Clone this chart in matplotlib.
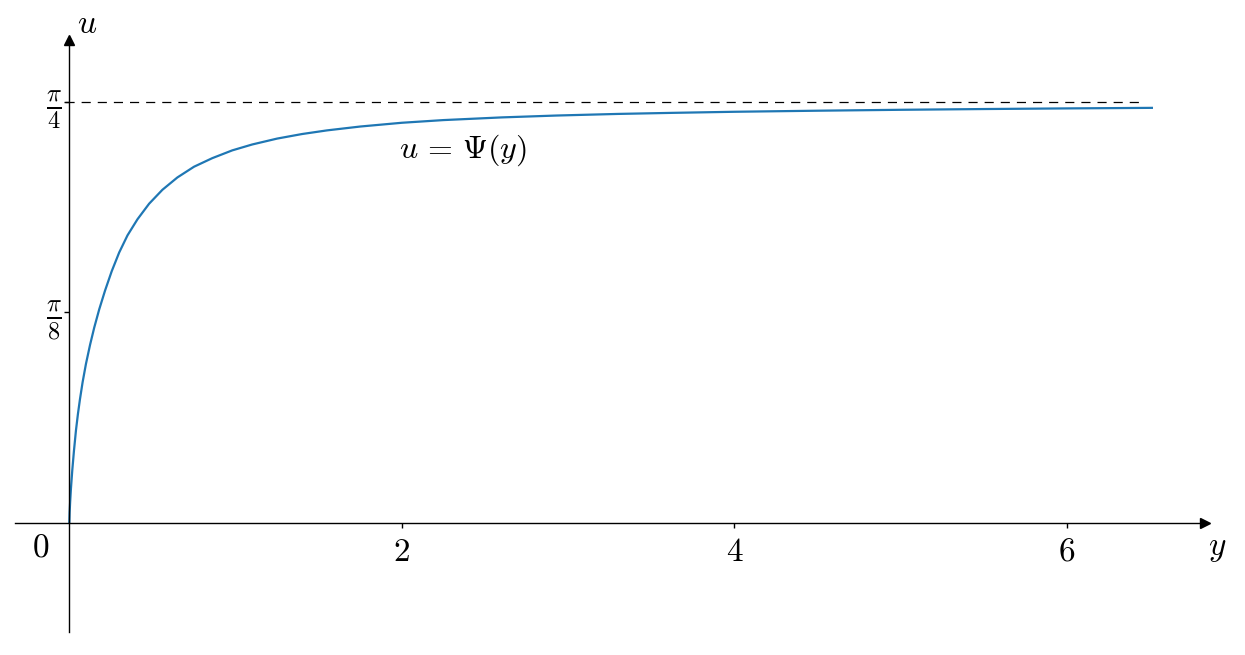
import numpy as np
import matplotlib
matplotlib.use("Agg")
import matplotlib.pyplot as plt

plt.rcParams['mathtext.fontset'] = 'cm'
plt.rcParams['font.family'] = ['DejaVu Serif']

# Data
y_vals = [0, 0.002, 0.005, 0.01, 0.018, 0.028, 0.04, 0.052, 0.064, 0.08,
          0.1, 0.125, 0.15, 0.18, 0.215, 0.255, 0.3, 0.35, 0.41, 0.48,
          0.56, 0.65, 0.75, 0.86, 0.98, 1.1, 1.25, 1.4, 1.55, 1.75,
          2.0, 2.25, 2.6, 2.93, 3.3, 3.63, 4.0, 4.5, 5.0, 5.5, 6.0, 6.51]
u_vals = [0, 0.019, 0.038, 0.064, 0.098, 0.134, 0.172, 0.203, 0.230, 0.262,
          0.296, 0.332, 0.364, 0.398, 0.433, 0.469, 0.504, 0.536, 0.566, 0.595,
          0.621, 0.644, 0.664, 0.680, 0.6945, 0.7055, 0.7165, 0.7250, 0.7318, 0.7390,
          0.7460, 0.7510, 0.7560, 0.7595, 0.7625, 0.7645, 0.7665, 0.7685, 0.7702,
          0.7716, 0.7728, 0.7738]
asymptote = np.pi / 4
x_ticks = [2, 4, 6]
x_ticklabels = ['$2$', '$4$', '$6$']
y_ticks = [np.pi / 8, np.pi / 4]
y_ticklabels = [r'$\frac{\pi}{8}$', r'$\frac{\pi}{4}$']

fig = plt.figure(figsize=(12.45, 6.55), dpi=100)
ax = fig.add_axes([0, 0, 1, 1])
ax.set_xlim(-0.4167, 7.07)
ax.set_ylim(-0.2468, 0.975)

fs = 24
for s in ['top', 'right']:
    ax.spines[s].set_visible(False)
ax.spines['left'].set_position(('data', 0))
ax.spines['bottom'].set_position(('data', 0))
ax.spines['bottom'].set_bounds(-0.327, 6.83)
ax.spines['left'].set_bounds(-0.204, 0.90)
for s in ['left', 'bottom']:
    ax.spines[s].set_linewidth(1.0)
ax.plot([6.83], [0], marker='>', color='k', markersize=7, clip_on=False)
ax.plot([0], [0.90], marker='^', color='k', markersize=7, clip_on=False)

ax.set_xticks(x_ticks)
ax.set_xticklabels(x_ticklabels, fontsize=fs)
ax.set_yticks(y_ticks)
ax.set_yticklabels(y_ticklabels, fontsize=fs + 1)
ax.tick_params(axis='both', direction='out', length=3.5, width=1.0)
ax.tick_params(axis='x', pad=6)
ax.tick_params(axis='y', pad=2)

ax.hlines(asymptote, -0.025, 6.47, colors='k', linestyles=(0, (7.3, 5.6)), linewidth=0.9)
ax.plot(y_vals, u_vals, color='#1f77b4', linewidth=1.6)

ax.text(-0.17, -0.047, '$0$', fontsize=fs, ha='center', va='center')
ax.text(6.90, -0.047, '$y$', fontsize=fs, ha='center', va='center')
ax.text(0.106, 0.930, '$u$', fontsize=fs, ha='center', va='center')
ax.text(2.37, 0.695, r'$u\,=\,\Psi(y)$', fontsize=fs - 1, ha='center', va='center')

fig.savefig('out.png', dpi=100)
